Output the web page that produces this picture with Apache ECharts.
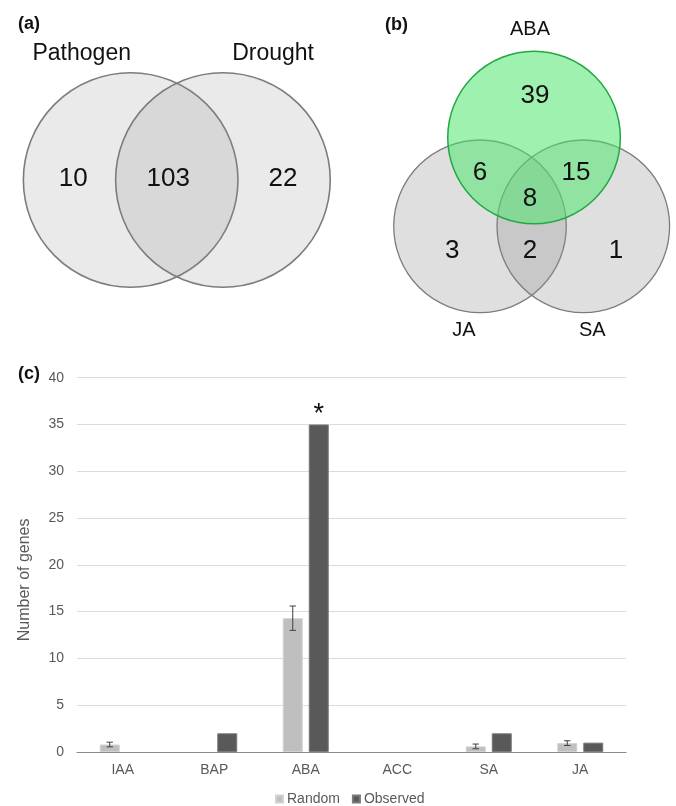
<!DOCTYPE html>
<html>
<head>
<meta charset="utf-8">
<style>
  html, body { margin: 0; padding: 0; background: #ffffff; }
  #chart { width: 676px; height: 806px; }
</style>
<script src="https://cdn.jsdelivr.net/npm/echarts@6/dist/echarts.min.js"></script>
</head>
<body>
<div id="chart"></div>
<script>
// ---- Data -------------------------------------------------------------
// (a) two-set Venn: gene counts per region
const vennASets = ['Pathogen', 'Drought'];
const vennACounts = [10, 103, 22];           // Pathogen only, shared, Drought only

// (b) three-set Venn: gene counts per region
const vennBSets = ['ABA', 'JA', 'SA'];
const vennBCounts = [39, 6, 15, 8, 3, 2, 1];  // ABA only, ABA∩JA, ABA∩SA, all three, JA only, JA∩SA, SA only

// (c) hormone-responsive genes: random expectation vs observed
const categories = ['IAA', 'BAP', 'ABA', 'ACC', 'SA', 'JA'];
const randomMean = [0.8, 0, 14.3, 0, 0.6, 0.95];
const randomErr  = [0.25, 0, 1.3, 0, 0.25, 0.25];
const observed   = [0, 2, 35, 0, 2, 1];
const significant = ['ABA'];
const seriesNames = ['Random', 'Observed'];

// ---- Layout -----------------------------------------------------------
const FONT = '"Liberation Sans", Arial, Helvetica, sans-serif';

// Venn panels are drawn on hidden value grids; one unit = one circle radius.
const vennA = {
  unitPx: 107.3, cx: 176.8, cy: 180, half: 1.6,
  circles: [[-0.43, 0], [0.43, 0]],
  setLabelPos: [[-0.886, 1.175], [0.897, 1.175]],
  countPos: [[-0.965, 0.01], [-0.08, 0.01], [0.99, 0.01]]
};
const vennB = {
  unitPx: 86.3, cx: 533, cy: 196, halfX: 1.65, halfY: 2.05,
  circles: [[0.012, 0.678], [-0.614, -0.351], [0.583, -0.351]],
  setLabelPos: [[-0.035, 1.925], [-0.80, -1.564], [0.687, -1.564]],
  countPos: [[0.023, 1.162], [-0.614, 0.267], [0.498, 0.267], [-0.035, -0.035],
             [-0.935, -0.634], [-0.035, -0.634], [0.962, -0.634]]
};

function gridFor(v, hx, hy) {
  return {
    left: v.cx - hx * v.unitPx, top: v.cy - hy * v.unitPx,
    width: 2 * hx * v.unitPx, height: 2 * hy * v.unitPx, containLabel: false
  };
}

const grayFill = 'rgba(140,140,140,0.18)';
const grayFillB = 'rgba(140,140,140,0.28)';
const grayStroke = '#7c7c7c';
const greenFill = 'rgba(80,230,110,0.55)';
const greenStroke = '#22a843';

// Bar geometry (px) shared by bars and error whiskers
const BAR_W = 20, BAR_GAP = 6;
const randomOffset = -(BAR_W + BAR_GAP) / 2;

function circleSeries(xi, coords, styles) {
  return {
    type: 'custom', xAxisIndex: xi, yAxisIndex: xi, silent: true, clip: false,
    data: coords.map(c => [c[0], c[1], 1]),
    renderItem: function (params, api) {
      const p = api.coord([api.value(0), api.value(1)]);
      const r = api.size([api.value(2), 0])[0];
      const s = styles[params.dataIndex];
      return { type: 'circle', shape: { cx: p[0], cy: p[1], r: r },
               style: { fill: s.fill, stroke: s.stroke, lineWidth: s.lineWidth } };
    }
  };
}

function textSeries(xi, coords, texts, fontSize) {
  return {
    type: 'custom', xAxisIndex: xi, yAxisIndex: xi, silent: true, clip: false, z: 5,
    data: coords.map((c, i) => [c[0], c[1], i]),
    renderItem: function (params, api) {
      const p = api.coord([api.value(0), api.value(1)]);
      return { type: 'text', x: p[0], y: p[1],
               style: { text: String(texts[params.dataIndex]), fontSize: fontSize,
                        fontFamily: FONT, fill: '#111111', align: 'center', verticalAlign: 'middle' } };
    }
  };
}

// zero-height bars get no outline so they leave no trace on the axis
function barItems(values, extra) {
  return values.map((v, i) => {
    const item = { value: v };
    if (v === 0) item.itemStyle = { borderWidth: 0 };
    if (extra) Object.assign(item, extra(i));
    return item;
  });
}

const chart = echarts.init(document.getElementById('chart'), null, { renderer: 'canvas' });

const hiddenAxis = (gi, h) => ({ gridIndex: gi, type: 'value', min: -h, max: h, show: false });

const option = {
  backgroundColor: '#ffffff',
  animation: false,
  title: [
    { text: '(a)', left: 13, top: 10, textStyle: { fontFamily: FONT, fontSize: 18, fontWeight: 'bold', color: '#111' } },
    { text: '(b)', left: 380, top: 11, textStyle: { fontFamily: FONT, fontSize: 18, fontWeight: 'bold', color: '#111' } },
    { text: '(c)', left: 13, top: 360, textStyle: { fontFamily: FONT, fontSize: 18, fontWeight: 'bold', color: '#111' } }
  ],
  grid: [
    gridFor(vennA, vennA.half, vennA.half),
    gridFor(vennB, vennB.halfX, vennB.halfY),
    { left: 77, right: 50, top: 377.7, bottom: 54, containLabel: false }
  ],
  xAxis: [
    hiddenAxis(0, vennA.half),
    hiddenAxis(1, vennB.halfX),
    {
      gridIndex: 2, type: 'category', data: categories,
      axisLine: { lineStyle: { color: '#8a8a8a', width: 1.2 } },
      axisTick: { show: false },
      axisLabel: { color: '#595959', fontSize: 14, fontFamily: FONT, margin: 11 }
    }
  ],
  yAxis: [
    hiddenAxis(0, vennA.half),
    hiddenAxis(1, vennB.halfY),
    {
      gridIndex: 2, type: 'value', min: 0, max: 40, interval: 5,
      name: 'Number of genes', nameLocation: 'middle', nameGap: 44,
      nameTextStyle: { color: '#595959', fontSize: 16, fontFamily: FONT, padding: [0, 30, 0, 0] },
      axisLine: { show: false }, axisTick: { show: false },
      axisLabel: { color: '#595959', fontSize: 14, fontFamily: FONT, margin: 13 },
      splitLine: { lineStyle: { color: '#dcdcdc', width: 1.2 } }
    }
  ],
  legend: {
    data: seriesNames, left: 270, top: 787, icon: 'rect', itemWidth: 7, itemHeight: 7,
    itemGap: 12, textStyle: { color: '#595959', fontSize: 14, fontFamily: FONT, padding: [0, 0, 0, -1] }
  },
  series: [
    // (a)
    circleSeries(0, vennA.circles, vennA.circles.map(() => ({ fill: grayFill, stroke: grayStroke, lineWidth: 1.6 }))),
    textSeries(0, vennA.setLabelPos, vennASets, 23),
    textSeries(0, vennA.countPos, vennACounts, 26),
    // (b): JA and SA underneath, ABA on top
    circleSeries(1, [vennB.circles[1], vennB.circles[2], vennB.circles[0]], [
      { fill: grayFillB, stroke: grayStroke, lineWidth: 1.3 },
      { fill: grayFillB, stroke: grayStroke, lineWidth: 1.3 },
      { fill: greenFill, stroke: greenStroke, lineWidth: 1.5 }
    ]),
    textSeries(1, vennB.setLabelPos, vennBSets, 20),
    textSeries(1, vennB.countPos, vennBCounts, 26),
    // (c)
    {
      name: seriesNames[0], type: 'bar', xAxisIndex: 2, yAxisIndex: 2,
      barWidth: BAR_W, barGap: (BAR_GAP / BAR_W * 100) + '%',
      itemStyle: { color: '#bfbfbf', borderColor: '#d2d2d2', borderWidth: 1 },
      data: barItems(randomMean)
    },
    {
      name: seriesNames[1], type: 'bar', xAxisIndex: 2, yAxisIndex: 2,
      barWidth: BAR_W,
      itemStyle: { color: '#595959', borderColor: '#7a7a7a', borderWidth: 1 },
      label: { show: false },
      data: barItems(observed, i => significant.includes(categories[i])
        ? { label: { show: true, position: 'top', distance: -4, formatter: '*',
                     fontSize: 27, fontFamily: FONT, color: '#111' } }
        : {})
    },
    {
      // error whiskers on the random-expectation bars
      type: 'custom', xAxisIndex: 2, yAxisIndex: 2, silent: true, z: 4,
      data: randomMean.map((m, i) => [i, m, randomErr[i]]),
      renderItem: function (params, api) {
        const err = api.value(2);
        if (!err) return null;
        const i = api.value(0), m = api.value(1);
        const hi = api.coord([i, m + err]);
        const lo = api.coord([i, m - err]);
        const x = hi[0] + randomOffset;
        const cap = 3.2;
        const st = { stroke: '#404040', lineWidth: 1 };
        return { type: 'group', children: [
          { type: 'line', shape: { x1: x, y1: hi[1], x2: x, y2: lo[1] }, style: st },
          { type: 'line', shape: { x1: x - cap, y1: hi[1], x2: x + cap, y2: hi[1] }, style: st },
          { type: 'line', shape: { x1: x - cap, y1: lo[1], x2: x + cap, y2: lo[1] }, style: st }
        ] };
      }
    }
  ]
};

chart.setOption(option);
</script>
</body>
</html>
